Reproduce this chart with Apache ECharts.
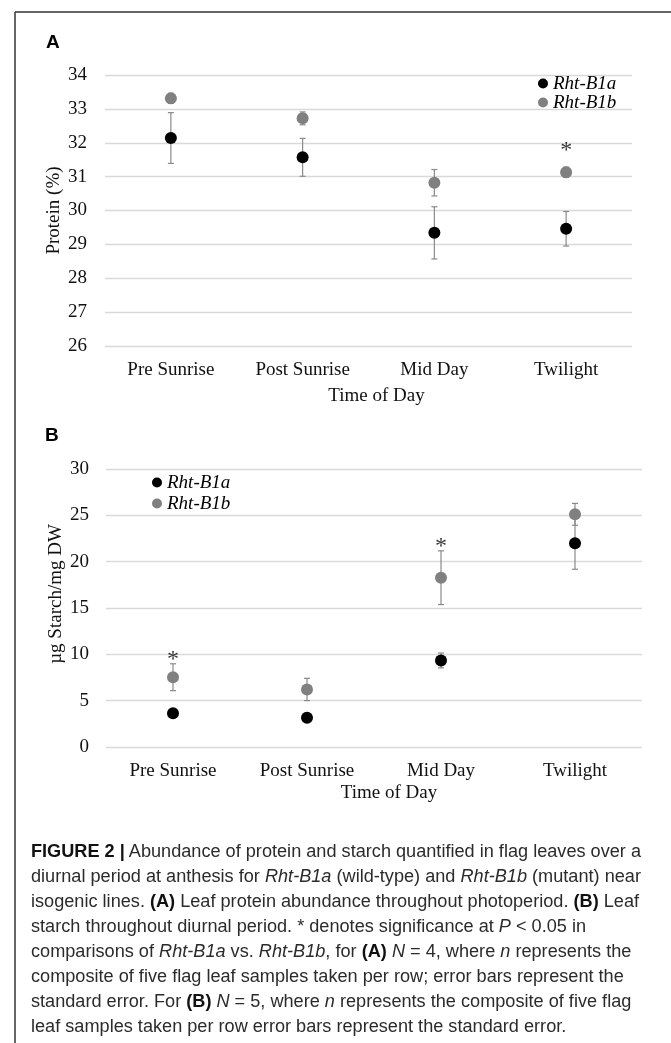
<!DOCTYPE html>
<html>
<head>
<meta charset="utf-8">
<script src="https://cdn.jsdelivr.net/npm/echarts@6/dist/echarts.min.js"></script>
<style>
  html, body { margin: 0; padding: 0; background: #fff; }
  #wrap { position: relative; width: 671px; height: 1043px; overflow: hidden; }
  #chart { position: absolute; left: 0; top: 0; width: 671px; height: 1043px; }
  #caption { position: absolute; left: 31px; top: 839px; font-family: "Liberation Sans", Arial, sans-serif; font-size: 17.5px; color: #2b2b2b; }
  #caption .ln { height: 25px; line-height: 25px; white-space: nowrap; transform-origin: 0 50%; }
  #caption b { color: #111; }
</style>
</head>
<body>
<div id="wrap">
  <div id="chart"></div>
  <div id="caption">
    <div class="ln"><b>FIGURE 2 |</b> Abundance of protein and starch quantified in flag leaves over a</div>
    <div class="ln">diurnal period at anthesis for <i>Rht-B1a</i> (wild-type) and <i>Rht-B1b</i> (mutant) near</div>
    <div class="ln">isogenic lines. <b>(A)</b> Leaf protein abundance throughout photoperiod. <b>(B)</b> Leaf</div>
    <div class="ln">starch throughout diurnal period. * denotes significance at <i>P</i> &lt; 0.05 in</div>
    <div class="ln">comparisons of <i>Rht-B1a</i> vs. <i>Rht-B1b</i>, for <b>(A)</b> <i>N</i> = 4, where <i>n</i> represents the</div>
    <div class="ln">composite of five flag leaf samples taken per row; error bars represent the</div>
    <div class="ln">standard error. For <b>(B)</b> <i>N</i> = 5, where <i>n</i> represents the composite of five flag</div>
    <div class="ln">leaf samples taken per row error bars represent the standard error.</div>
  </div>
</div>
<script>
// ---------- data ----------
const categories = ['Pre Sunrise', 'Post Sunrise', 'Mid Day', 'Twilight'];
const seriesNames = ['Rht-B1a', 'Rht-B1b'];

// Panel A: Protein (%)
const proteinB1a = [32.14, 31.57, 29.34, 29.46];
const proteinB1aErr = [0.75, 0.56, 0.77, 0.51];
const proteinB1b = [33.31, 32.72, 30.82, 31.13];
const proteinB1bErr = [0.15, 0.19, 0.39, 0.15];
const proteinStars = ['-', '-', '-', 31.9];
const proteinTicks = { min: 26, max: 34, interval: 1 };

// Panel B: µg Starch/mg DW
const starchB1a = [3.64, 3.15, 9.34, 21.98];
const starchB1aErr = [0.25, 0.5, 0.8, 2.8];
const starchB1b = [7.53, 6.21, 18.27, 25.11];
const starchB1bErr = [1.45, 1.2, 2.9, 1.18];
const starchStars = [10.0, '-', 22.2, '-'];
const starchTicks = { min: 0, max: 30, interval: 5 };

// ---------- styling ----------
const SERIF = '"Liberation Serif", "Times New Roman", serif';
const BLACK = '#000000';
const GRAY = '#808080';
const ERR = '#8a8a8a';

function errData(vals, errs) { return vals.map((v, i) => [i, v, errs[i]]); }

function errSeries(name, vals, errs, axisIdx) {
  return {
    name: name, type: 'custom', xAxisIndex: axisIdx, yAxisIndex: axisIdx, z: 1,
    data: errData(vals, errs), encode: { x: 0, y: 1 }, silent: true,
    renderItem: function (params, api) {
      const x = api.value(0), y = api.value(1), e = api.value(2);
      const t = api.coord([x, y + e]);
      const b = api.coord([x, y - e]);
      const hw = 3;
      const st = { stroke: ERR, lineWidth: 1.2 };
      return { type: 'group', children: [
        { type: 'line', shape: { x1: t[0], y1: t[1], x2: b[0], y2: b[1] }, style: st },
        { type: 'line', shape: { x1: t[0] - hw, y1: t[1], x2: t[0] + hw, y2: t[1] }, style: st },
        { type: 'line', shape: { x1: b[0] - hw, y1: b[1], x2: b[0] + hw, y2: b[1] }, style: st }
      ]};
    }
  };
}

function pointSeries(name, vals, color, axisIdx) {
  return {
    name: name, type: 'scatter', xAxisIndex: axisIdx, yAxisIndex: axisIdx, z: 5,
    data: vals, symbol: 'circle', symbolSize: 12,
    itemStyle: { color: color, opacity: 1 }
  };
}

function starSeries(vals, axisIdx) {
  return {
    name: 'sig', type: 'scatter', xAxisIndex: axisIdx, yAxisIndex: axisIdx, z: 6,
    data: vals, symbolSize: 0, silent: true,
    label: { show: true, position: 'inside', formatter: '*', fontFamily: SERIF, fontSize: 24, color: '#000', offset: [0, 5] }
  };
}

const axisLabelStyle = { fontFamily: SERIF, fontSize: 19, color: '#111' };

function xAxisCfg(gridIdx, nameGap, namePad) {
  return {
    type: 'category', gridIndex: gridIdx, data: categories,
    axisLine: { show: false }, axisTick: { show: false },
    axisLabel: Object.assign({ margin: 15 }, axisLabelStyle),
    name: 'Time of Day', nameLocation: 'middle', nameGap: nameGap, nameMoveOverlap: false,
    nameTextStyle: { fontFamily: SERIF, fontSize: 19, color: '#111', padding: namePad }
  };
}

function yAxisCfg(gridIdx, ticks, name, margin, nameGap, namePad) {
  return {
    type: 'value', gridIndex: gridIdx, min: ticks.min, max: ticks.max, interval: ticks.interval,
    axisLine: { show: false }, axisTick: { show: false },
    axisLabel: Object.assign({ margin: margin }, axisLabelStyle),
    splitLine: { show: true, lineStyle: { color: '#d9d9d9', width: 1.3 } },
    name: name, nameLocation: 'middle', nameGap: nameGap, nameRotate: 90, nameMoveOverlap: false,
    nameTextStyle: { fontFamily: SERIF, fontSize: 19, color: '#111', padding: namePad }
  };
}

const legendText = { fontFamily: SERIF, fontSize: 19, fontStyle: 'italic', color: '#000' };

const option = {
  animation: false,
  backgroundColor: '#ffffff',
  grid: [
    { left: 105, right: 39, top: 75, height: 271 },
    { left: 106, right: 29, top: 469, height: 278 }
  ],
  xAxis: [ xAxisCfg(0, 41, [0, 0, 0, 16]), xAxisCfg(1, 37, [0, 0, 0, 30]) ],
  yAxis: [
    yAxisCfg(0, proteinTicks, 'Protein (%)', 18, 41, [0, 0, 0, 0]),
    yAxisCfg(1, starchTicks, 'µg Starch/mg DW', 17, 40, [0, 0, 0, 28])
  ],
  legend: [
    { data: seriesNames, orient: 'vertical', left: 538, top: 74, itemWidth: 10, itemHeight: 10, itemGap: 0,
      icon: 'circle', textStyle: legendText, selectedMode: false, padding: 0 },
    { data: seriesNames, orient: 'vertical', left: 152, top: 473, itemWidth: 10, itemHeight: 10, itemGap: 2,
      icon: 'circle', textStyle: legendText, selectedMode: false, padding: 0 }
  ],
  graphic: [
    { type: 'line', shape: { x1: 15, y1: 12, x2: 671, y2: 12 }, style: { stroke: '#333', lineWidth: 1.5 } },
    { type: 'line', shape: { x1: 15, y1: 12, x2: 15, y2: 1043 }, style: { stroke: '#333', lineWidth: 1.5 } },
    { type: 'text', left: 46, top: 33, style: { text: 'A', font: 'bold 19px "Liberation Sans", Arial, sans-serif', fill: '#000' } },
    { type: 'text', left: 45, top: 426, style: { text: 'B', font: 'bold 19px "Liberation Sans", Arial, sans-serif', fill: '#000' } }
  ],
  series: [
    errSeries('errA1', proteinB1a, proteinB1aErr, 0),
    errSeries('errA2', proteinB1b, proteinB1bErr, 0),
    pointSeries(seriesNames[0], proteinB1a, BLACK, 0),
    pointSeries(seriesNames[1], proteinB1b, GRAY, 0),
    starSeries(proteinStars, 0),
    errSeries('errB1', starchB1a, starchB1aErr, 1),
    errSeries('errB2', starchB1b, starchB1bErr, 1),
    pointSeries(seriesNames[0], starchB1a, BLACK, 1),
    pointSeries(seriesNames[1], starchB1b, GRAY, 1),
    starSeries(starchStars, 1)
  ]
};

const chart = echarts.init(document.getElementById('chart'), null, { renderer: 'canvas' });
chart.setOption(option);

// fit caption lines horizontally to the reference width (first line spans ~610px)
const lines = document.querySelectorAll('#caption .ln');
const span = document.createElement('span');
span.innerHTML = lines[0].innerHTML;
span.style.whiteSpace = 'nowrap';
lines[0].innerHTML = '';
lines[0].appendChild(span);
const w0 = span.getBoundingClientRect().width;
const s = 610 / w0;
lines.forEach(l => { l.style.transform = 'scaleX(' + s.toFixed(4) + ')'; });
</script>
</body>
</html>
